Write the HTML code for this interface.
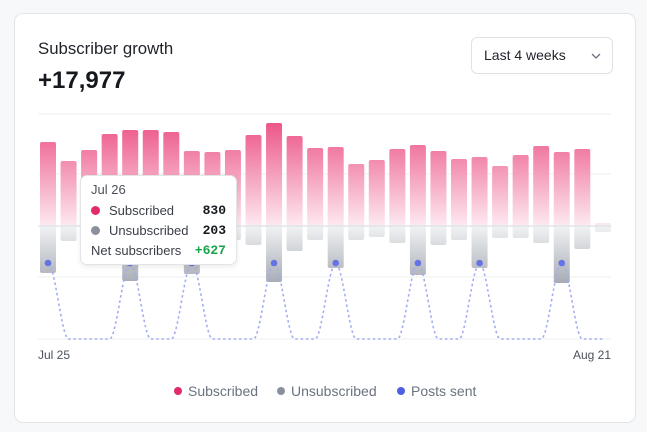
<!DOCTYPE html>
<html><head><meta charset="utf-8"><style>
body{margin:0;width:647px;height:432px;background:#f7f8fa;font-family:"Liberation Sans",sans-serif;overflow:hidden;position:relative}
.card{position:absolute;left:14px;top:13px;width:622px;height:410px;background:#fff;border:1px solid #e3e5e8;border-radius:9px;box-sizing:border-box}
.t{position:absolute;left:38px;top:39px;font-size:16.8px;color:#1f2329}
.n{position:absolute;left:38px;top:67px;font-size:24px;font-weight:bold;color:#15181d}
.dd{position:absolute;left:471px;top:37px;width:142px;height:37px;border:1px solid #dfe2e6;border-radius:6px;box-sizing:border-box;font-size:14px;color:#1f2329;line-height:35px;padding-left:12px}
.tip{position:absolute;left:80px;top:175px;width:157px;height:90px;background:#fff;border:1px solid #e2e4e8;border-radius:7px;box-sizing:border-box;box-shadow:0 2px 6px rgba(0,0,0,.08);font-size:13px;color:#3a3f47}
.tip div{position:absolute}
.lg{position:absolute;top:383px;font-size:14px;color:#6b7280}
.lg span{display:inline-block;width:8px;height:8px;border-radius:50%;margin-right:6px;vertical-align:1px}
.ax{position:absolute;top:348px;font-size:12px;color:#4b5059}
</style></head><body>
<div class="card"></div>
<div class="t">Subscriber growth</div>
<div class="n">+17,977</div>
<div class="dd">Last 4 weeks<svg style="position:absolute;left:119px;top:15px" width="10" height="7"><path d="M1 1L5 5L9 1" stroke="#6b7280" stroke-width="1.3" fill="none"/></svg></div>
<svg id="c" style="position:absolute;left:0;top:0" width="647" height="432"></svg>
<div class="tip">
<div style="left:10px;top:6px;color:#4b5059">Jul 26</div>
<div style="left:10px;width:9px;height:9px;border-radius:50%;background:#e32a6a;top:30px"></div>
<div style="left:28px;top:27px">Subscribed</div>
<div style="right:10px;top:27px;font-family:'Liberation Mono',monospace;font-weight:bold;color:#15181d">830</div>
<div style="left:10px;top:50px;width:9px;height:9px;border-radius:50%;background:#8a919c"></div>
<div style="left:28px;top:47px">Unsubscribed</div>
<div style="right:10px;top:47px;font-family:'Liberation Mono',monospace;font-weight:bold;color:#15181d">203</div>
<div style="left:10px;top:67px">Net subscribers</div>
<div style="right:10px;top:67px;font-family:'Liberation Mono',monospace;font-weight:bold;color:#16a34a">+627</div>
</div>
<div class="ax" style="left:38px">Jul 25</div>
<div class="ax" style="left:573px">Aug 21</div>
<div class="lg" style="left:174px"><span style="background:#e32a6a"></span>Subscribed</div>
<div class="lg" style="left:277px"><span style="background:#8a919c"></span>Unsubscribed</div>
<div class="lg" style="left:397px"><span style="background:#4f5fe0"></span>Posts sent</div>
<script>
var tops=[142,161,150,134,130,130,132,151,152,150,135,123,136,148,147,164,160,149,145,151,159,157,166,155,146,152,149,223];
var bots=[273,241,243,245,281,248,244,274,240,240,245,282,251,240,268,240,237,243,275,245,240,268,238,238,243,283,249,232];
var posts=[0,4,7,11,14,18,21,25];
var Z=226,s='<defs><linearGradient id="p" gradientUnits="userSpaceOnUse" x1="0" y1="122" x2="0" y2="226"><stop offset="0" stop-color="#ec5588"/><stop offset="1" stop-color="#fde9f1"/></linearGradient><linearGradient id="g" gradientUnits="userSpaceOnUse" x1="0" y1="226" x2="0" y2="284"><stop offset="0" stop-color="#f1f2f4"/><stop offset="1" stop-color="#a6abb3"/></linearGradient></defs>';
[114,174,277,339].forEach(function(y){s+='<line x1="38" x2="611" y1="'+y+'" y2="'+y+'" stroke="#eef0f2"/>';});
function X(i){return 48+20.55*i;}
for(var i=0;i<28;i++){var x=X(i)-8;
s+='<rect x="'+x+'" y="'+tops[i]+'" width="16" height="'+(Z-tops[i]+2)+'" rx="2" fill="url(#p)"/>';
s+='<rect x="'+x+'" y="'+(Z-1)+'" width="16" height="'+(bots[i]-Z+1)+'" rx="2" fill="url(#g)"/>';}
s+='<line x1="38" x2="611" y1="226" y2="226" stroke="#dcdfe3" stroke-width="1.2"/>';
var v=[];for(i=0;i<28;i++)v.push(posts.indexOf(i)>=0?263:339);
var d='M'+X(0)+' '+v[0],k=20.55/3;
for(i=1;i<28;i++){d+=' C'+(X(i-1)+k)+' '+v[i-1]+' '+(X(i)-k)+' '+v[i]+' '+X(i)+' '+v[i];}
s+='<path d="'+d+'" fill="none" stroke="#a3adf0" stroke-width="1.6" stroke-dasharray="2.5 2.8"/>';
posts.forEach(function(i){s+='<circle cx="'+X(i)+'" cy="263" r="3.3" fill="#6474e2"/>';});
document.getElementById('c').innerHTML=s;
</script>
</body></html>
